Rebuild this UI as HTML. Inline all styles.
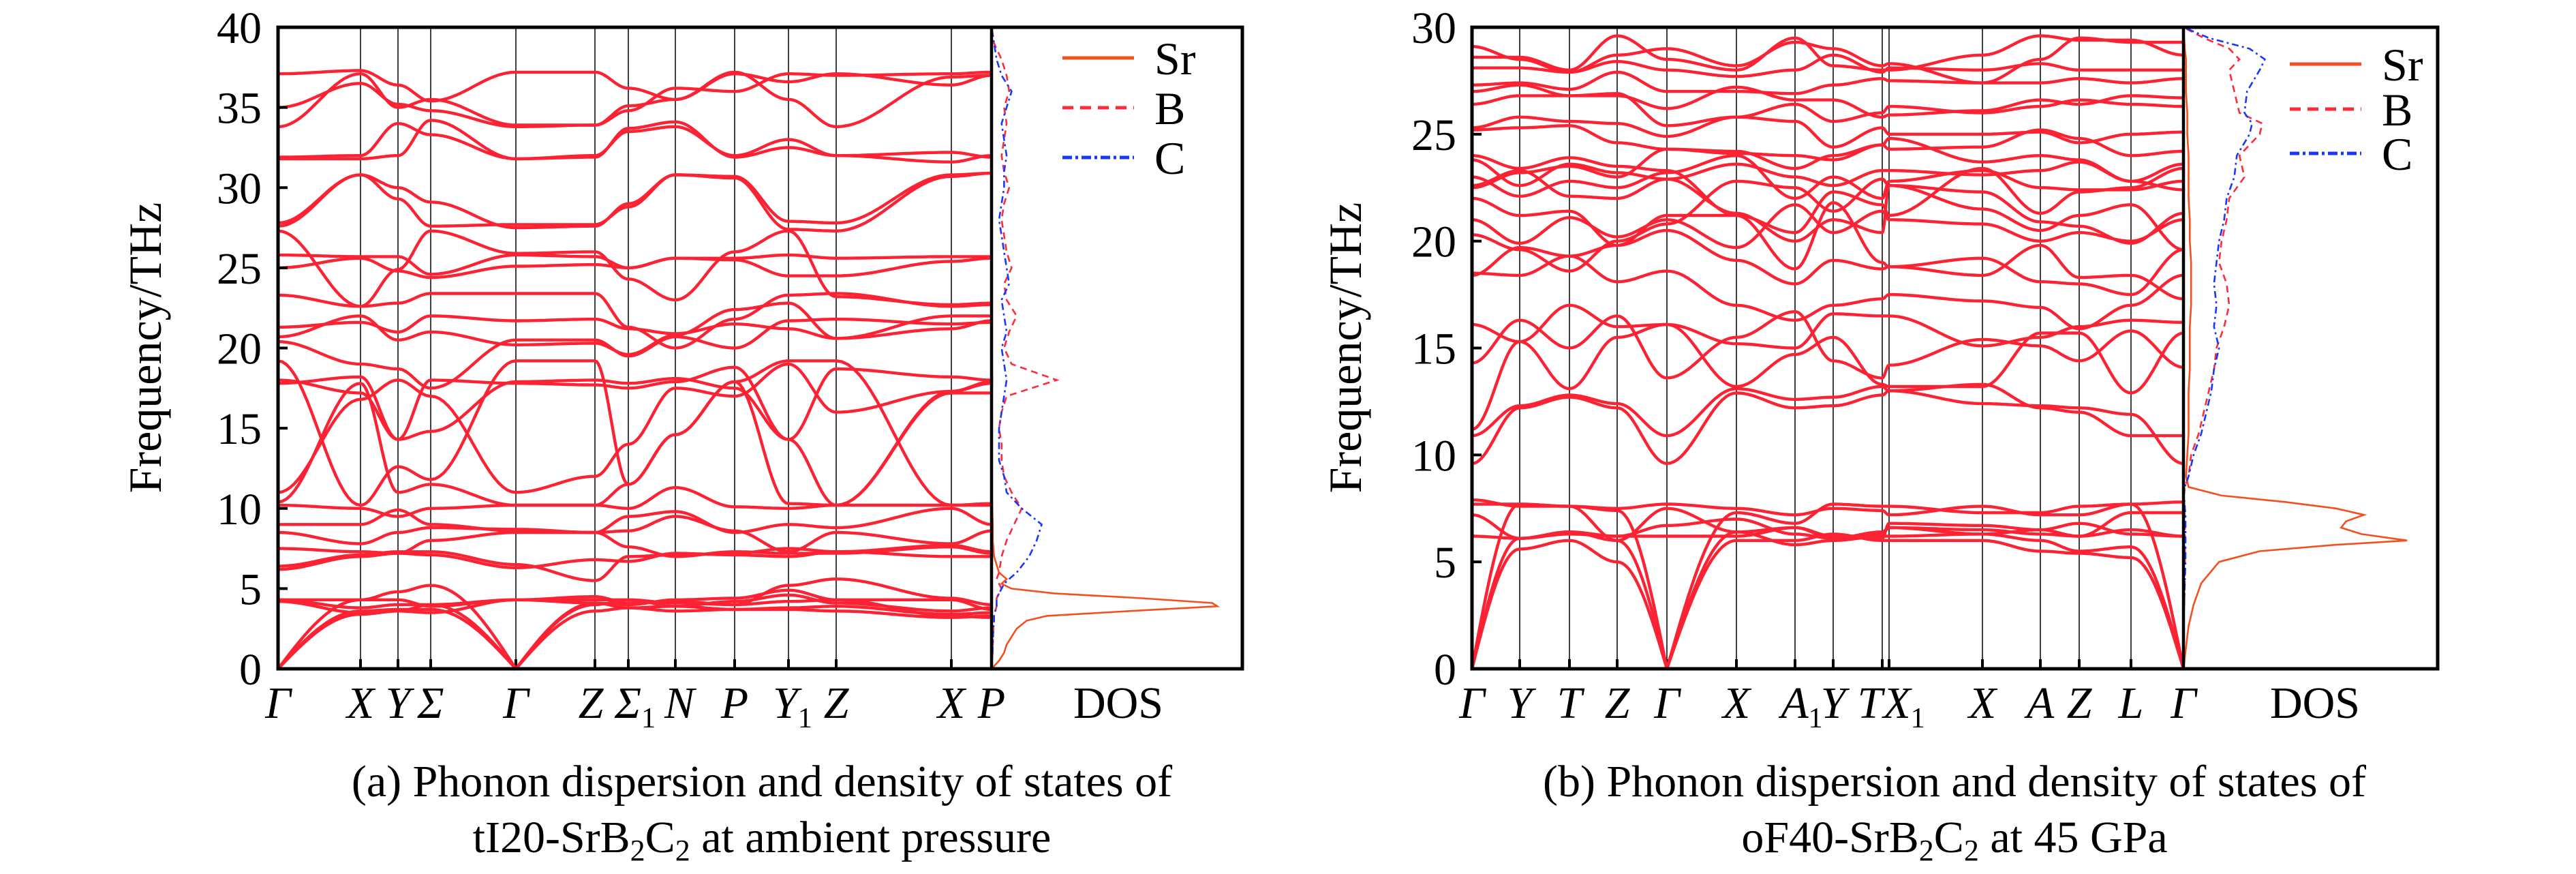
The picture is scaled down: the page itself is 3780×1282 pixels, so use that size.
<!DOCTYPE html>
<html><head><meta charset="utf-8"><style>
html,body{margin:0;padding:0;background:#fff;}
svg{display:block;}
svg text{font-family:"Liberation Serif","Times New Roman",serif;fill:#000;}
</style></head><body>
<svg id="fig" width="3780" height="1282" viewBox="0 0 3780 1282" xmlns="http://www.w3.org/2000/svg" font-family="Liberation Serif, serif">
<g id="panelA"></g>
<g id="panelB"></g>
<text x="1118" y="1168" font-size="66" font-family="Liberation Serif, serif" text-anchor="middle">(a) Phonon dispersion and density of states of</text>
<text x="1118" y="1250" font-size="66" font-family="Liberation Serif, serif" text-anchor="middle">tI20-SrB<tspan font-size="44" dy="12">2</tspan><tspan dy="-12">C</tspan><tspan font-size="44" dy="12">2</tspan><tspan dy="-12"> at ambient pressure</tspan></text>
<text x="2868" y="1168" font-size="66" font-family="Liberation Serif, serif" text-anchor="middle">(b) Phonon dispersion and density of states of</text>
<text x="2868" y="1250" font-size="66" font-family="Liberation Serif, serif" text-anchor="middle">oF40-SrB<tspan font-size="44" dy="12">2</tspan><tspan dy="-12">C</tspan><tspan font-size="44" dy="12">2</tspan><tspan dy="-12"> at 45 GPa</tspan></text>
</svg>
<script>
// ---------- Panel A data ----------
const kLabelsA = ["Γ","X","Y","Σ","Γ","Z","Σ|1","N","P","Y|1","Z","X","P"];
const kPosA = [0,121,176,224,349,465,514,583,670,749,819,988,1047];
const yTicksA = [0,5,10,15,20,25,30,35,40];
const bandsA = [
[0,3.4,3.6,4.0,0,3.6,3.8,3.9,3.7,3.8,3.9,3.4,3.5],
[0,3.6,3.7,3.7,0,4.1,3.8,3.6,3.7,3.7,3.6,3.2,3.3],
[0,4.3,4.8,5.2,0,4.0,4.3,4.1,4.0,5.2,5.6,4.4,4.0],
[4.3,4.3,4.3,3.9,4.3,4.5,4.1,4.2,4.0,4.2,4.3,4.3,3.7],
[4.3,3.8,4.0,4.0,4.3,4.3,4.3,3.9,4.2,4.6,4.1,3.6,3.8],
[4.2,3.5,3.6,3.5,4.3,4.1,4.0,4.3,4.4,4.9,4.3,3.3,3.2],
[6.2,7.0,7.2,7.1,6.3,6.8,6.7,7.2,7.1,7.0,7.3,7.0,7.0],
[6.4,7.1,7.3,7.3,6.5,5.5,7.0,7.1,7.2,7.5,7.3,7.7,7.3],
[7.5,7.3,7.2,8.0,8.5,8.5,7.6,7.0,7.3,7.2,7.2,7.6,7.2],
[8.5,7.8,8.5,8.8,8.7,8.5,8.6,9.5,8.6,7.3,8.5,7.8,8.6],
[9.0,9.0,9.9,9.0,8.6,8.5,9.5,9.8,8.5,9.0,8.8,10.0,9.0],
[10.2,10.0,9.5,10.0,10.2,10.2,10.0,11.3,10.1,10.0,10.2,10.2,10.3],
[10.4,17.8,11.0,11.5,10.2,10.2,11.5,14.6,17.9,10.3,10.2,17.3,17.8],
[19.2,10.2,12.6,11.8,19.2,19.2,11.5,14.6,17.9,19.2,19.2,10.2,10.2],
[18.0,17.2,14.3,14.8,17.9,18.0,17.8,18.1,17.5,14.3,10.2,17.2,17.2],
[17.8,18.2,14.3,18.0,17.8,17.7,17.5,17.9,18.8,14.3,18.7,18.2,18.0],
[11.0,16.8,18.0,17.0,11.0,12.0,14.0,17.5,17.0,19.0,16.0,17.3,17.9],
[20.4,19.0,18.7,17.5,20.5,20.5,19.5,20.7,20.0,21.7,21.8,21.5,21.6],
[21.3,21.6,21.0,22.0,21.7,21.8,21.2,20.9,21.5,21.2,20.6,21.2,21.7],
[23.3,22.6,22.8,23.4,23.4,23.4,21.3,20.0,21.8,23.3,23.4,22.6,22.7],
[20.7,22.0,20.5,21.0,20.2,20.3,19.6,20.8,22.4,22.8,20.6,22.0,22.0],
[25.8,25.7,25.7,24.6,25.8,25.7,25.0,25.6,25.6,25.8,25.6,25.7,25.7],
[25.0,25.6,24.8,24.4,25.1,25.2,25.0,25.6,25.5,24.5,24.5,25.4,25.6],
[27.3,22.6,24.9,27.3,25.9,26.0,24.3,23.0,26.0,27.3,23.2,22.7,22.8],
[27.6,30.8,29.3,27.6,27.7,27.7,28.8,30.8,30.7,27.9,27.8,30.8,30.9],
[27.8,30.8,30.0,29.1,27.5,27.6,29.0,30.8,30.6,27.4,27.3,30.7,30.9],
[31.9,32.0,34.0,33.3,31.8,31.9,33.7,34.1,31.9,32.5,32.0,31.6,32.0],
[31.8,31.8,32.0,34.2,31.8,32.0,33.5,33.8,32.0,33.0,32.0,32.2,31.9],
[33.8,37.1,35.0,35.5,33.9,33.9,35.1,35.5,37.2,35.5,33.8,36.9,37.0],
[37.1,37.3,36.4,35.4,37.2,37.2,36.2,35.5,37.1,36.6,37.1,36.4,37.0],
[35.0,36.5,35.2,34.8,33.8,33.9,34.8,36.2,36.0,37.1,37.0,37.1,37.2]
];
const dosFreqA = [0,0.5,1,1.5,2,2.5,3,3.3,3.6,3.9,4.1,4.4,4.7,5,5.3,5.6,6,7,8,9,10,11,12,13,14,15,16,17,18,19,20,21,22,23,24,25,26,27,28,29,30,31,32,33,34,35,36,37,38,39,40];
const dosSrA = [0,3,5,6,8,10,14,22,55,90,88,60,25,8,4,6,3,1,0.5,0.5,0.3,0.2,0.2,0.2,0.2,0.2,0.2,0.2,0.3,0.2,0.2,0.2,0.2,0.2,0.2,0.2,0.2,0.2,0.2,0.2,0.2,0.2,0.2,0.2,0.2,0.2,0.2,0.2,0.2,0.2,0];
const dosBA = [0,0.2,0.4,0.5,0.6,0.7,1,1,1.5,2,2,2,3,4,3,2,3,4,6,9,12,8,5,4,4,3,4,6,26,8,5,7,10,6,5,8,6,5,4,5,7,5,4,5,6,5,7,6,4,1,0];
const dosCA = [0,0.2,0.4,0.5,0.6,0.7,1,1,1.5,2,2,2,3,4,5,7,10,15,18,20,12,6,5,3,3,3,4,5,6,5,4,6,5,4,7,6,5,4,3,4,5,5,6,5,4,6,8,4,2,1,0];

// ---------- Panel B data ----------
const kLabelsB = ["Γ","Y","T","Z","Γ","X","A|1","Y","T","X|1","X","A","Z","L","Γ"];
const kPosB = [0,70,143,213,286,388,474,530,602,612,749,834,891,967,1044];
const yTicksB = [0,5,10,15,20,25,30];
const bandsB = [
[0,5.6,6.0,5.0,0,6.0,6.0,6.3,6.0,6.0,6.0,5.5,5.4,5.2,0],
[0,6.1,6.4,6.0,0,6.4,5.8,6.0,6.2,6.2,6.3,6.0,5.5,5.7,0],
[0,7.7,7.6,7.4,0,7.3,6.8,7.7,7.6,7.6,7.3,7.3,7.6,7.7,0],
[6.2,6.1,6.4,6.2,6.2,6.2,6.6,6.1,6.3,6.6,6.3,6.5,6.2,6.5,6.2],
[7.7,7.7,7.6,7.5,7.7,7.5,7.2,7.5,7.4,7.2,7.6,7.2,7.2,7.7,7.8],
[7.2,6.1,6.3,6.2,6.7,7.0,6.3,6.1,6.4,6.6,6.5,6.3,6.2,7.3,7.3],
[7.9,7.6,7.6,6.0,7.5,6.4,6.6,6.2,6.1,6.8,6.7,6.5,6.8,6.3,6.2],
[9.6,12.2,12.7,12.2,9.6,12.9,12.2,12.3,12.8,13.0,12.4,12.3,12.2,11.9,9.6],
[10.9,12.3,12.8,12.4,10.9,13.1,12.6,12.7,13.2,13.0,13.3,12.2,12.0,10.9,10.9],
[11.2,15.3,13.1,15.5,16.1,13.2,14.7,15.5,13.3,13.2,13.2,15.7,15.7,12.9,15.7],
[16.1,15.3,17.0,16.0,16.1,15.2,15.0,16.6,16.5,16.5,15.1,15.5,16.0,16.3,16.2],
[18.5,18.4,19.3,18.1,18.6,17.0,16.3,17.0,17.3,17.5,17.2,16.9,15.9,17.0,18.4],
[18.4,19.7,19.3,19.8,20.5,19.1,18.0,19.1,18.7,18.8,19.2,18.1,18.0,17.5,19.6],
[21.0,19.9,21.1,20.2,21.0,19.7,21.7,20.4,21.4,21.0,20.8,20.0,20.4,20.0,21.0],
[22.6,23.3,22.1,22.0,22.9,21.3,20.0,21.0,20.4,22.6,22.3,20.9,20.7,19.9,21.3],
[23.0,22.1,22.8,22.5,23.2,24.0,22.0,23.0,22.0,22.8,23.3,22.5,22.4,22.4,22.8],
[24.0,23.4,23.9,23.5,23.3,21.2,20.4,22.3,21.7,21.2,23.4,21.3,22.3,22.5,23.4],
[23.8,22.6,23.6,23.2,22.9,23.6,23.0,22.6,23.3,23.3,23.1,23.3,23.7,22.8,23.6],
[22.5,23.2,23.5,23.0,24.3,24.2,23.4,24.0,24.5,24.8,23.7,24.0,23.8,22.8,22.4],
[25.2,25.3,25.4,24.6,24.3,24.1,24.0,23.8,24.5,24.3,24.4,25.2,24.8,24.0,24.2],
[25.3,25.8,25.6,25.5,24.9,25.8,25.6,24.4,25.3,25.0,25.0,25.1,24.6,25.0,25.1],
[26.4,26.8,26.8,26.9,25.4,25.8,26.4,25.6,26.0,26.3,26.0,26.3,26.6,26.4,26.3],
[27.0,27.3,26.8,26.8,26.2,27.2,26.6,26.6,25.8,25.9,26.1,26.6,26.4,26.8,26.7],
[27.3,27.4,27.1,27.9,27.0,27.0,26.9,27.3,27.6,27.5,27.4,27.4,27.6,27.4,27.6],
[28.1,28.1,27.9,28.4,28.0,27.7,28.0,28.7,27.9,28.1,28.0,28.3,28.0,28.0,28.0],
[28.6,28.6,28.0,29.6,28.5,28.0,29.5,28.2,28.0,28.0,28.7,29.6,29.4,29.4,28.7],
[29.1,28.5,27.9,28.7,29.0,28.2,29.3,29.0,28.2,28.3,27.4,28.5,29.5,29.3,29.3],
[22.0,21.2,21.4,19.8,21.2,21.2,18.7,21.8,19.0,18.8,18.4,19.8,18.3,18.4,17.3],
[20.3,19.6,18.6,20.0,20.8,22.8,22.5,21.4,22.9,22.6,21.5,20.5,21.2,21.7,19.6],
[14.3,16.3,15.0,16.5,13.6,15.5,16.7,14.4,13.6,14.2,15.4,15.1,14.4,15.8,14.1]
];
const dosFreqB = [0,1,2,3,4,5,5.5,5.8,6.0,6.3,6.6,6.9,7.2,7.5,7.8,8.1,8.5,9,10,11,12,13,14,15,16,17,18,19,20,21,22,23,24,25,25.5,26,27,28,28.5,29,29.5,30];
const dosSrB = [0,1,2,4,7,14,30,60,88,70,62,64,71,60,40,15,2,1,1.5,2,2,2,2.5,2.5,2.5,3,3,3,2.5,2.5,2,2,2,1.5,1.5,1.5,1,1,1,0.5,0.3,0];
const dosBB = [0,0,0,0.3,0.5,0.6,0.6,0.6,0.6,0.6,0.6,0.6,0.5,0.4,0.3,0.2,0.5,2,3,6,8,10,12,13,16,18,17,14,15,17,18,24,22,30,31,22,20,18,22,18,8,0];
const dosCB = [0,0,0,0.3,0.5,0.8,0.8,0.8,0.8,0.8,0.8,0.8,0.8,0.6,0.4,0.2,0.5,2,4,7,9,11,12,14,12,13,12,13,14,16,17,20,21,26,27,24,25,30,32,26,10,0];

const NS = "http://www.w3.org/2000/svg";
const FONT = "Liberation Serif, serif";
function mk(tag, attrs, parent){ const e=document.createElementNS(NS,tag); for(const k in attrs) e.setAttribute(k,attrs[k]); parent.appendChild(e); return e; }

function drawPanel(cfg){
  const g = document.getElementById(cfg.gid);
  const L=cfg.left, R=cfg.sep, D=cfg.right, T=40, B=981;
  const xk = k => L + (k - cfg.kPos[0])/(cfg.kPos[cfg.kPos.length-1]-cfg.kPos[0])*(R-L);
  const yf = f => B - f/cfg.fmax*(B-T);
  const xd = v => R + v/100*(D-R);
  cfg.kPos.forEach((k,i)=>{
    if(i===0||i===cfg.kPos.length-1) return;
    const ln = mk("line",{x1:xk(k),x2:xk(k),y1:T,y2:B,stroke:"#000","stroke-width":1.5},g);
    
    
    const tk = mk("line",{x1:xk(k),x2:xk(k),y1:B-14,y2:B,stroke:"#000","stroke-width":4},g);
    
    
  });
  const bg = mk("g",{fill:"none",stroke:"#fb2233","stroke-width":4.4,"stroke-linejoin":"round"},g);
  
  
  cfg.bands.forEach((band,bi)=>{
    let d="";
    for(let s=0;s<band.length-1;s++){
      const a=band[s], b=band[s+1], k0=cfg.kPos[s], k1=cfg.kPos[s+1];
      const n=20;
      for(let j=(s===0?0:1);j<=n;j++){
        const t=j/n; let f;
        if(a===0 && b>0) f=b*Math.sin(t*Math.PI/2);
        else if(b===0 && a>0) f=a*Math.cos(t*Math.PI/2);
        else f=a+(b-a)*(1-Math.cos(t*Math.PI))/2;
        const x=xk(k0+(k1-k0)*t), y=yf(f);
        d+=(d===""?"M":"L")+x.toFixed(1)+","+y.toFixed(1);
      }
    }
    const p = mk("path",{d:d},bg);
    
    
  });
  function dosPath(freqs, vals, color, dash, width, name){
    let d="";
    freqs.forEach((f,i)=>{ d+=(i?"L":"M")+xd(vals[i]).toFixed(1)+","+yf(f).toFixed(1); });
    const p = mk("path",{d:d,fill:"none",stroke:color,"stroke-width":width,"stroke-dasharray":dash},g);
    
    
  }
  dosPath(cfg.dosFreq, cfg.dosSr, "#f2501e", "none", 2.6, "dos-sr");
  dosPath(cfg.dosFreq, cfg.dosB, "#ff2a3a", "10,7", 2.6, "dos-b");
  dosPath(cfg.dosFreq, cfg.dosC, "#1838ff", "10,5,3,5", 2.6, "dos-c");
  const fr = mk("rect",{x:L,y:T,width:D-L,height:B-T,fill:"none",stroke:"#000","stroke-width":5},g);
  
  
  const sp = mk("line",{x1:R,x2:R,y1:T,y2:B,stroke:"#000","stroke-width":4.5},g);
  
  
  cfg.yTicks.forEach(v=>{
    const tk = mk("line",{x1:L,x2:L+14,y1:yf(v),y2:yf(v),stroke:"#000","stroke-width":4},g);
    
    
    const tx = mk("text",{x:cfg.tickRight,y:yf(v)+23,"font-size":66,"font-family":FONT,"text-anchor":"end"},g);
    tx.textContent=v;
    
    
  });
  const yt = mk("text",{x:cfg.titleX,y:510,"font-size":68,"font-family":FONT,"text-anchor":"middle",transform:"rotate(-90 "+cfg.titleX+" 510)"},g);
  yt.textContent="Frequency/THz";
  
  
  cfg.kLabels.forEach((lab,i)=>{
    const parts=lab.split("|");
    const off = (cfg.labOff && cfg.labOff[i]) || 0;
    const tx = mk("text",{x:xk(cfg.kPos[i])+off,y:1053,"font-size":66,"font-family":FONT,"font-style":"italic","text-anchor":"middle"},g);
    tx.textContent=parts[0];
    if(parts[1]){ const ts=mk("tspan",{"font-size":42,"font-style":"normal",dy:14},tx); ts.textContent=parts[1]; }
    
    
  });
  const dl = mk("text",{x:cfg.dosX,y:1053,"font-size":66,"font-family":FONT,"text-anchor":"middle"},g);
  dl.textContent="DOS";
  
  
  const lg = mk("g",{},g);
  
  
  const ents=[["Sr","#f2501e","none"],["B","#ff2a3a","16,10"],["C","#1838ff","14,5,4,5"]];
  ents.forEach((e,i)=>{
    const y=cfg.legY[i];
    const ln=mk("line",{x1:cfg.legX,x2:cfg.legX+105,y1:y,y2:y,stroke:e[1],"stroke-width":5,"stroke-dasharray":e[2]},lg);
    
    
    const tx=mk("text",{x:cfg.legX+135,y:y+24,"font-size":68,"font-family":FONT},lg);
    tx.textContent=e[0];
    
    
  });
}

drawPanel({gid:"panelA",left:408,sep:1455,right:1823,fmax:40,kPos:kPosA,kLabels:kLabelsA,bands:bandsA,yTicks:yTicksA,
  dosFreq:dosFreqA,dosSr:dosSrA,dosB:dosBA,dosC:dosCA,tickRight:384,titleX:236,dosX:1641,legX:1559,legY:[85,158,231],
  labOff:[0,0,0,0,0,-6,10,6,0,6,0,0,0]});
drawPanel({gid:"panelB",left:2160,sep:3204,right:3577,fmax:30,kPos:kPosB,kLabels:kLabelsB,bands:bandsB,yTicks:yTicksB,
  dosFreq:dosFreqB,dosSr:dosSrB,dosB:dosBB,dosC:dosCB,tickRight:2137,titleX:1997,dosX:3397,legX:3360,legY:[94,160,225],
  labOff:[0,0,0,0,0,0,10,0,-18,22,0,0,0,0,0]});
</script>
</body></html>
